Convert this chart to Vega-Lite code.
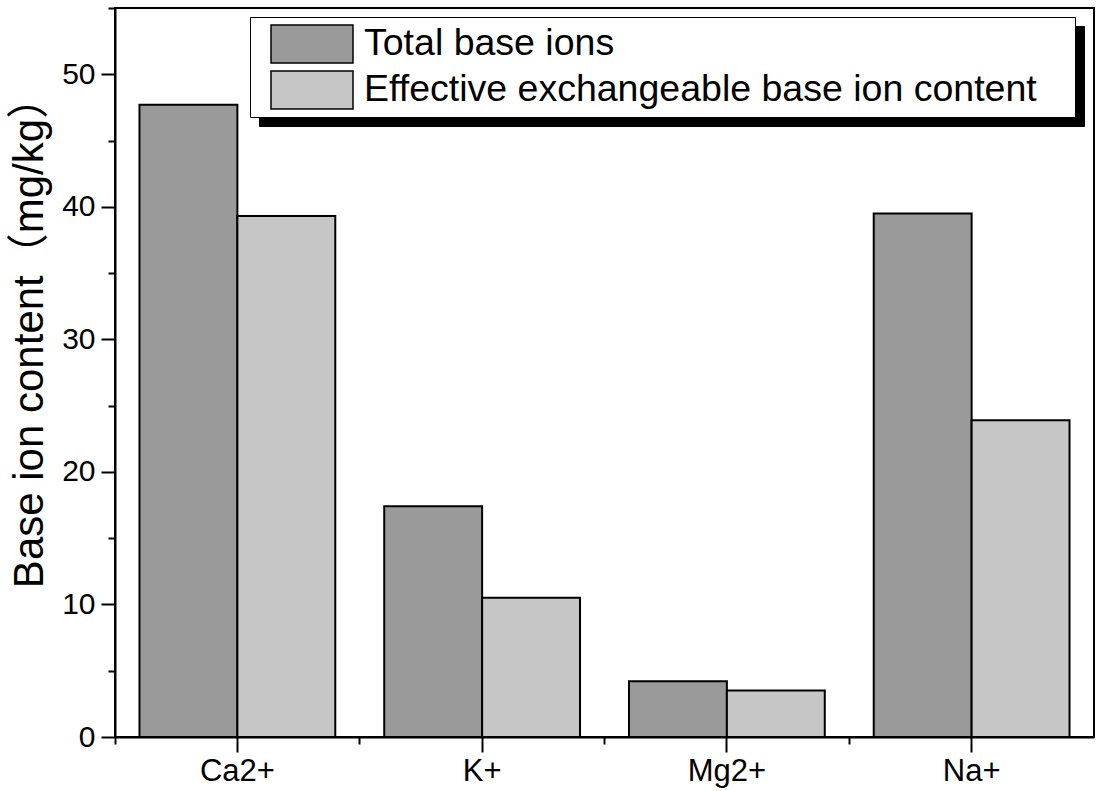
{
  "$schema": "https://vega.github.io/schema/vega-lite/v6.json",
  "width": 979,
  "height": 729,
  "autosize": {"type": "none"},
  "padding": {"left": 115, "top": 8, "right": 6, "bottom": 54},
  "background": "white",
  "config": {
    "font": "Liberation Sans",
    "view": {"stroke": "black", "strokeWidth": 2},
    "axis": {
      "grid": false,
      "domainColor": "black",
      "domainWidth": 2,
      "tickColor": "black",
      "tickWidth": 2,
      "labelColor": "black",
      "labelFontSize": 30,
      "labelFont": "Liberation Sans",
      "titleColor": "black"
    }
  },
  "data": {
    "values": [
      {"ion": "Ca2+", "series": "Total base ions", "value": 47.7},
      {"ion": "Ca2+", "series": "Effective exchangeable base ion content", "value": 39.3},
      {"ion": "K+", "series": "Total base ions", "value": 17.4},
      {"ion": "K+", "series": "Effective exchangeable base ion content", "value": 10.5},
      {"ion": "Mg2+", "series": "Total base ions", "value": 4.2},
      {"ion": "Mg2+", "series": "Effective exchangeable base ion content", "value": 3.5},
      {"ion": "Na+", "series": "Total base ions", "value": 39.5},
      {"ion": "Na+", "series": "Effective exchangeable base ion content", "value": 23.9}
    ]
  },
  "layer": [
    {
      "mark": {"type": "bar", "stroke": "black", "strokeWidth": 2},
      "encoding": {
        "x": {
          "field": "ion",
          "type": "nominal",
          "sort": ["Ca2+", "K+", "Mg2+", "Na+"],
          "scale": {"paddingInner": 0.2, "paddingOuter": 0.1},
          "axis": {"title": null, "labelAngle": 0, "tickSize": 15, "labelPadding": 4, "labelFontSize": 31}
        },
        "xOffset": {
          "field": "series",
          "type": "nominal",
          "sort": ["Total base ions", "Effective exchangeable base ion content"],
          "scale": {"paddingInner": 0, "paddingOuter": 0}
        },
        "y": {
          "field": "value",
          "type": "quantitative",
          "scale": {"domain": [0, 55], "nice": false},
          "axis": {
            "values": [0, 10, 20, 30, 40, 50],
            "tickSize": 14,
            "labelPadding": 6,
            "title": "Base ion content（mg/kg）",
            "titleFont": "Liberation Sans, Noto Sans CJK SC",
            "titleFontSize": 42,
            "titleFontWeight": "normal",
            "titleX": -73,
            "titleY": 324,
            "titleAngle": -90,
            "titleBaseline": "alphabetic",
            "titleAlign": "center"
          }
        },
        "fill": {
          "field": "series",
          "type": "nominal",
          "sort": ["Total base ions", "Effective exchangeable base ion content"],
          "scale": {"range": ["#9a9a9a", "#c6c6c6"]},
          "legend": {
            "title": " ",
            "titleOrient": "right",
            "titleFontSize": 38,
            "titlePadding": 34,
            "orient": "none",
            "legendX": 135,
            "legendY": 9,
            "zindex": 2,
            "fillColor": "white",
            "strokeColor": "black",
            "padding": 4,
            "symbolType": "M-1,-0.4634L1,-0.4634L1,0.4634L-1,0.4634Z",
            "symbolSize": 6724,
            "symbolOffset": 16,
            "clipHeight": 46,
            "rowPadding": 0,
            "labelFontSize": 37.5,
            "labelOffset": 10,
            "labelLimit": 1000,
            "labelColor": "black",
            "labelFont": "Liberation Sans",
            "encode": {
              "legend": {"update": {"strokeWidth": {"value": 2}}},
              "symbols": {"update": {"stroke": {"value": "black"}, "strokeWidth": {"value": 2}}}
            }
          }
        },
        "opacity": {
          "field": "series",
          "type": "nominal",
          "sort": ["Total base ions", "Effective exchangeable base ion content"],
          "scale": {"range": [1, 1]},
          "legend": {
            "title": null,
            "orient": "none",
            "legendX": 144,
            "legendY": 18,
            "zindex": 1,
            "fillColor": "black",
            "strokeColor": "black",
            "padding": 4,
            "symbolType": "M-1,-0.04L1,-0.04L1,0.04L-1,0.04Z",
            "symbolSize": 664225,
            "symbolOffset": 0,
            "clipHeight": 46,
            "rowPadding": 0,
            "labelExpr": "''",
            "labelOffset": 0,
            "labelColor": "black",
            "encode": {
              "legend": {"update": {"strokeWidth": {"value": 2}}},
              "symbols": {"update": {"fill": {"value": "black"}, "stroke": {"value": "black"}, "strokeWidth": {"value": 0}}}
            }
          }
        }
      }
    },
    {
      "mark": {"type": "bar", "opacity": 0},
      "encoding": {
        "x": {
          "field": "ion",
          "type": "nominal",
          "sort": ["Ca2+", "K+", "Mg2+", "Na+"],
          "axis": {"orient": "bottom", "labels": false, "domain": false, "tickSize": 7, "bandPosition": -0.125, "title": null}
        },
        "y": {
          "field": "value",
          "type": "quantitative",
          "axis": {"orient": "left", "values": [5, 15, 25, 35, 45, 55], "labels": false, "domain": false, "tickSize": 7, "title": null}
        }
      }
    }
  ],
  "resolve": {"axis": {"x": "independent", "y": "independent"}}
}
